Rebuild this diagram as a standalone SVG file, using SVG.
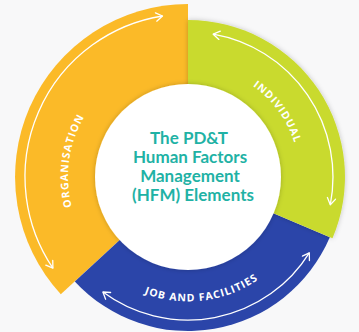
<svg xmlns="http://www.w3.org/2000/svg" width="359" height="332" viewBox="0 0 359 332">
  <style>
    .lbl { font-family: "Open Sans", "Liberation Sans", sans-serif; font-weight: 700; font-size: 10.5px; letter-spacing: 1px; fill: #ffffff; }
    .title { font-family: "Lato", "Open Sans", "Liberation Sans", sans-serif; font-weight: 700; font-size: 17px; fill: #1fb2a5; text-anchor: middle; }
    .arc { fill: none; stroke: #ffffff; stroke-width: 1.3; marker-start: url(#head); marker-end: url(#head); }
  </style>
  <defs>
    <marker id="head" markerUnits="userSpaceOnUse" markerWidth="12" markerHeight="12" refX="8" refY="5" orient="auto-start-reverse">
      <path d="M1.5,0.8 L8,5 L1.5,9.2" fill="none" stroke="#ffffff" stroke-width="1.3" stroke-linecap="round" stroke-linejoin="round"/>
    </marker>
    <filter id="sh" x="-20%" y="-20%" width="140%" height="140%">
      <feDropShadow dx="0" dy="0" stdDeviation="2.5" flood-color="#000000" flood-opacity="0.22"/>
    </filter>
    <path id="pOrg" d="M110.9,268.9 A120,120 0 0 1 139.2,67.4"/>
    <path id="pInd" d="M180.3,66.3 A110,110 0 0 1 290.9,218.5"/>
    <path id="pJob" d="M88.6,251.9 A124.5,124.5 0 0 0 302.6,225.6"/>
  </defs>
  <rect width="359" height="332" fill="#f8f8f9"/>

  <g id="organisation">
    <path d="M188,177 L60.8,294.2 A173,173 0 0 1 188,4 Z" fill="#fbba28"/>
  </g>
  <g id="job-and-facilities">
    <path d="M188,177 L329.8,237.2 A154,154 0 0 1 74.8,281.4 Z" fill="#2b45a9"/>
  </g>
  <g id="individual">
    <path d="M188,177 L188,20 A157,157 0 0 1 332.5,238.3 Z" fill="#c9da2d" filter="url(#sh)"/>
  </g>

  <g id="center">
    <circle cx="188" cy="177" r="93" fill="#ffffff" filter="url(#sh)"/>
    <text class="title" x="189" y="143.5">The PD&amp;T</text>
    <text class="title" x="190" y="162.5">Human Factors</text>
    <text class="title" x="190" y="181.5">Management</text>
    <text class="title" x="193" y="200.5">(HFM) Elements</text>
  </g>

  <g id="connectors">
    <path class="arc" d="M52.9,268.2 A163,163 0 0 1 162.5,16.0"/>
    <path class="arc" d="M213.2,34.2 A145,145 0 0 1 330.3,204.7"/>
    <path class="arc" d="M309.3,252.8 A143,143 0 0 1 102.9,292.0"/>
  </g>

  <g id="labels">
    <text class="lbl"><textPath href="#pOrg" startOffset="50%" text-anchor="middle">ORGANISATION</textPath></text>
    <text class="lbl"><textPath href="#pInd" startOffset="50%" text-anchor="middle">INDIVIDUAL</textPath></text>
    <text class="lbl"><textPath href="#pJob" startOffset="50%" text-anchor="middle">JOB AND FACILITIES</textPath></text>
  </g>
</svg>
